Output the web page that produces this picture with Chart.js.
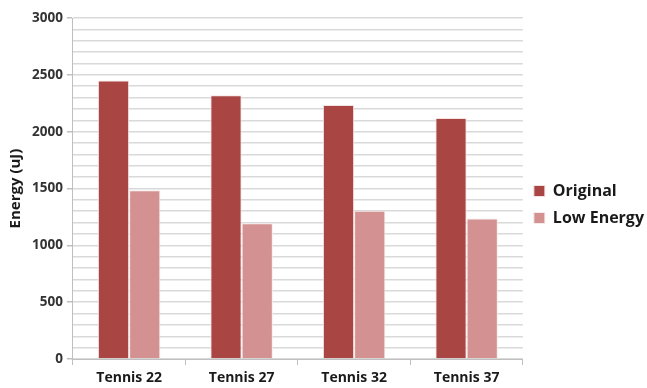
<!DOCTYPE html>
<html>
<head>
<meta charset="utf-8">
<script src="https://cdn.jsdelivr.net/npm/chart.js@4"></script>
<style>
  html, body { margin: 0; padding: 0; background: #fff; }
  #wrap { width: 647px; height: 388px; position: relative; }
</style>
</head>
<body>
<div id="wrap"><canvas id="energy-chart"></canvas></div>
<script>
// values
const categories   = ['Tennis 22', 'Tennis 27', 'Tennis 32', 'Tennis 37'];
const originalVals = [2450, 2320, 2235, 2120];
const lowEnergyVals = [1485, 1195, 1305, 1235];
const yMax = 3000;
const yLabelStep = 500;

const gridGray = '#d9d9d9';
const font = "'Open Sans', 'Liberation Sans', sans-serif";

new Chart(document.getElementById('energy-chart').getContext('2d'), {
    type: 'bar',
    data: {
        labels: categories,
        datasets: [
            { label: 'Original',   data: originalVals,  backgroundColor: '#a94644', borderColor: '#f3e3e3', borderWidth: 1 },
            { label: 'Low Energy', data: lowEnergyVals, backgroundColor: '#d39291', borderColor: '#f7eaea', borderWidth: 1 }
        ]
    },
    options: {
        responsive: true,
        maintainAspectRatio: false,
        animation: false,
        layout: { padding: { top: 18, right: -7, bottom: -3, left: 4 } },
        datasets: { bar: { categoryPercentage: 0.555, barPercentage: 1.0 } },
        plugins: {
            tooltip: { enabled: false },
            legend: {
                position: 'right',
                align: 'center',
                labels: {
                    color: '#1a1a1a',
                    font: { family: font, size: 16, weight: 'bold' },
                    boxWidth: 11, boxHeight: 11, padding: 11
                }
            }
        },
        scales: {
            x: {
                grid: { offset: true, drawOnChartArea: false, color: '#bfbfbf', tickLength: 6 },
                border: { color: '#bfbfbf' },
                ticks: { color: '#1a1a1a', font: { family: font, size: 14, weight: 'bold', lineHeight: 1 }, padding: 6 }
            },
            y: {
                min: 0, max: yMax,
                title: { display: true, text: 'Energy (uJ)', color: '#1a1a1a', font: { family: font, size: 15, weight: 'bold' }, padding: 3 },
                border: { color: '#bfbfbf' },
                grid: {
                    color: gridGray, lineWidth: 1.5, tickLength: 6,
                    tickColor: ctx => (ctx.tick && ctx.tick.value % yLabelStep === 0) ? '#bfbfbf' : 'rgba(0,0,0,0)'
                },
                ticks: {
                    stepSize: 100, autoSkip: false,
                    color: '#333', font: { family: font, size: 13.5, weight: 'bold' }, padding: 4,
                    callback: v => (v % yLabelStep === 0) ? v : ''
                }
            }
        }
    }
});
</script>
</body>
</html>
